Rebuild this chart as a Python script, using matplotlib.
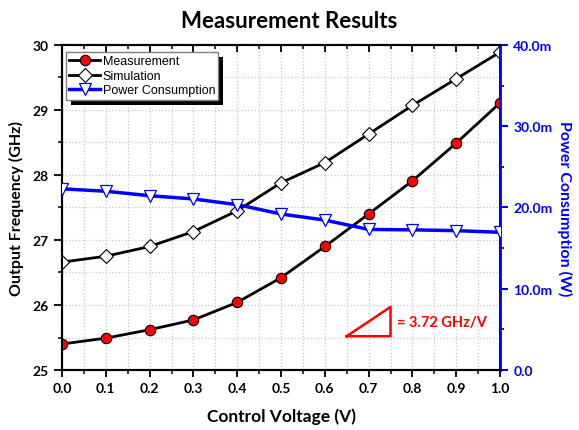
import matplotlib.pyplot as plt
import matplotlib.transforms as mtransforms
from matplotlib.patches import Rectangle
from matplotlib.ticker import MultipleLocator, FuncFormatter

voltage = [0.0, 0.1, 0.2, 0.3, 0.4, 0.5, 0.6, 0.7, 0.8, 0.9, 1.0]
measurement = [25.40, 25.49, 25.62, 25.77, 26.04, 26.42, 26.90, 27.40, 27.91, 28.49, 29.11]
simulation = [26.66, 26.75, 26.90, 27.13, 27.45, 27.88, 28.19, 28.63, 29.07, 29.48, 29.89]
power_mw = [22.3, 22.0, 21.45, 21.05, 20.35, 19.2, 18.45, 17.3, 17.25, 17.15, 16.95]

# slope marker triangle (V, GHz)
tri_x = [0.65, 0.75, 0.75, 0.65]
tri_y = [25.52, 25.52, 25.97, 25.52]
slope_text = "= 3.72 GHz/V"

fig = plt.figure(figsize=(5.79, 4.31), dpi=100)
ax = fig.add_axes([0.1071, 0.1392, 0.7565, 0.7541])
ax2 = ax.twinx()

ax.set_xlim(0, 1)
ax.set_ylim(25, 30)
ax2.set_ylim(0, 40)

ax.xaxis.set_major_locator(MultipleLocator(0.1))
ax.xaxis.set_minor_locator(MultipleLocator(0.05))
ax.yaxis.set_major_locator(MultipleLocator(1))
ax.yaxis.set_minor_locator(MultipleLocator(0.5))
ax2.yaxis.set_major_locator(MultipleLocator(10))
ax2.yaxis.set_minor_locator(MultipleLocator(5))

ax.grid(True, which='both', color='#c8c8c8', linestyle=':', linewidth=0.9)
ax.set_axisbelow(True)

l1, = ax.plot(voltage, measurement, color='black', lw=2, marker='o', ms=7.5,
              mfc='red', mec='black', mew=0.8, label='Measurement', zorder=3)
l2, = ax.plot(voltage, simulation, color='black', lw=2, marker='D', ms=7,
              mfc='white', mec='black', mew=0.8, label='Simulation', zorder=3)
l3, = ax2.plot(voltage, power_mw, color='blue', lw=2.5, marker='v', ms=8.5,
               mfc='white', mec='blue', mew=0.9, label='Power Consumption', zorder=3)

ax.plot(tri_x, tri_y, color='red', lw=1.8, zorder=4)
ax.text(0.765, 25.745, slope_text, color='red', fontsize=10.5, fontweight='bold',
        family='Lato', va='center', ha='left')

for a in (ax, ax2):
    for s in a.spines.values():
        s.set_linewidth(1.5)
ax2.spines['right'].set_color('blue')
ax2.spines['right'].set_linewidth(2)

ax.tick_params(axis='x', which='major', direction='out', length=5, width=1.3, labelsize=10)
ax.tick_params(axis='x', which='minor', direction='out', length=3, width=1.1)
ax.tick_params(axis='y', which='major', direction='out', length=6, width=1.3, labelsize=10)
ax.tick_params(axis='y', which='minor', direction='out', length=3, width=1.1)
ax2.tick_params(axis='y', which='major', direction='out', length=6, width=1.5,
                colors='blue', labelsize=10)
ax2.tick_params(axis='y', which='minor', direction='out', length=3, width=1.3, colors='blue')
ax.xaxis.set_ticks_position('both')
# top ticks point into the plot
for t in ax.xaxis.get_major_ticks() + ax.xaxis.get_minor_ticks():
    t.tick2line.set_marker(3)

ax.xaxis.set_major_formatter(FuncFormatter(lambda v, p: f"{v:.1f}"))
ax2.yaxis.set_major_formatter(FuncFormatter(lambda v, p: "0.0" if v == 0 else f"{v:.1f}m"))

for lab in ax.get_xticklabels() + ax.get_yticklabels() + ax2.get_yticklabels():
    lab.set_fontweight('bold')
    lab.set_family('Lato')

ax.set_xlabel('Control Voltage (V)', fontsize=12.5, fontweight='bold', family='Lato', labelpad=10)
ax.set_ylabel('Output Frequency (GHz)', fontsize=11.5, fontweight='bold', family='Lato', labelpad=6)
ax2.set_ylabel('Power Consumption (W)', fontsize=11.5, fontweight='bold', family='Lato',
               color='blue', rotation=270, labelpad=14)
fig.suptitle('Measurement Results', x=0.5, y=0.975, fontsize=16, fontweight='bold', family='Lato')

leg = ax2.legend([l1, l2, l3], ['Measurement', 'Simulation', 'Power Consumption'],
                 loc='upper left', bbox_to_anchor=(0.003, 0.985), fancybox=False,
                 edgecolor='#808080', framealpha=1, handlelength=2.5,
                 borderpad=0.25, labelspacing=0.2, handletextpad=0.2, borderaxespad=0.2,
                 prop={'family': 'Liberation Sans', 'size': 9})
leg.get_frame().set_linewidth(1)
leg.set_zorder(6)

# solid black drop shadow behind the legend box
fig.canvas.draw()
bb = leg.get_window_extent()
shadow = Rectangle((bb.x0 + 5, bb.y0 - 5), bb.width, bb.height, facecolor='black',
                   edgecolor='none', transform=mtransforms.IdentityTransform(),
                   zorder=5.5, clip_on=False)
ax2.add_artist(shadow)

fig.savefig('out.png', dpi=100)
